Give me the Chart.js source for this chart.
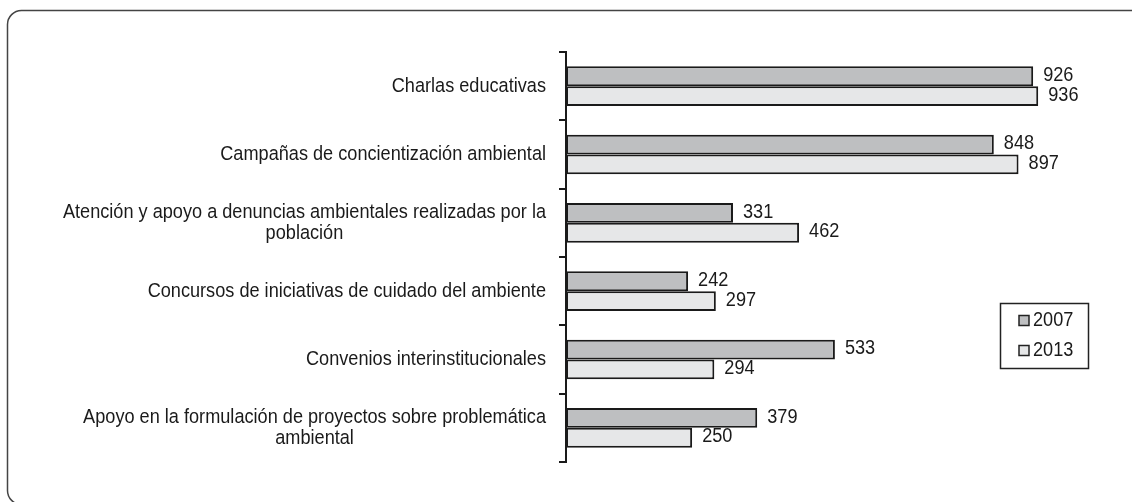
<!DOCTYPE html>
<html>
<head>
<meta charset="utf-8">
<script src="https://cdn.jsdelivr.net/npm/chart.js@4"></script>
<style>
  html, body { margin: 0; padding: 0; background: #fff; overflow: hidden; }
  #myChart { display: block; }
</style>
</head>
<body>
<canvas id="myChart" width="1132" height="502"></canvas>
<script>
// categories (multi-line labels as arrays)
var categories = [
  ["Charlas educativas"],
  ["Campañas de concientización ambiental"],
  ["Atención y apoyo a denuncias ambientales realizadas por la", "población"],
  ["Concursos de iniciativas de cuidado del ambiente"],
  ["Convenios interinstitucionales"],
  ["Apoyo en la formulación de proyectos sobre problemática", "ambiental"]
];
var values2007 = [926, 848, 331, 242, 533, 379];
var values2013 = [936, 897, 462, 297, 294, 250];
var seriesNames = ["2007", "2013"];

var FONT = '"Liberation Sans", Arial, sans-serif';
var SQUASH = 0.885; // narrow look, like Arial Narrow
var fill2007 = "#bebfc1";
var fill2013 = "#e6e7e8";

// text squeezed horizontally around its anchor
function narrowText(ctx, text, x, y) {
  ctx.save();
  ctx.translate(x, y);
  ctx.scale(SQUASH, 1);
  ctx.fillText(text, 0, 0);
  ctx.restore();
}

// rounded frame, running off the right and bottom edges
var framePlugin = {
  id: "framePlugin",
  beforeDraw: function (chart) {
    var ctx = chart.ctx;
    ctx.save();
    ctx.strokeStyle = "#444";
    ctx.lineWidth = 1.5;
    ctx.beginPath();
    ctx.roundRect(7.5, 10.5, 1300, 494, 14);
    ctx.stroke();
    ctx.restore();
  }
};

// draws value labels, category labels and the boxed legend
var textPlugin = {
  id: "textPlugin",
  afterDraw: function (chart) {
    var ctx = chart.ctx;
    ctx.save();
    ctx.fillStyle = "#1a1a1a";
    ctx.textBaseline = "middle";
    ctx.font = "20.5px " + FONT;

    // value labels
    ctx.textAlign = "left";
    chart.data.datasets.forEach(function (ds, di) {
      chart.getDatasetMeta(di).data.forEach(function (bar, i) {
        narrowText(ctx, String(ds.data[i]), bar.x + 10, bar.y - 1);
      });
    });

    // category labels, lines centred on each other, block right-aligned
    var yScale = chart.scales.y;
    var lineH = 21;
    ctx.textAlign = "center";
    categories.forEach(function (lines, i) {
      var cy = yScale.getPixelForValue(i);
      var maxW = 0;
      lines.forEach(function (t) { maxW = Math.max(maxW, ctx.measureText(t).width * SQUASH); });
      var cx = yScale.right - 20 - maxW / 2;
      lines.forEach(function (t, k) {
        narrowText(ctx, t, cx, cy + (k - (lines.length - 1) / 2) * lineH);
      });
    });

    // legend
    ctx.strokeStyle = "#222";
    ctx.lineWidth = 1.5;
    ctx.strokeRect(1000.5, 303.5, 88, 65);
    ctx.textAlign = "left";
    var fills = [fill2007, fill2013];
    seriesNames.forEach(function (name, k) {
      var cy = 320.5 + k * 30;
      ctx.fillStyle = fills[k];
      ctx.fillRect(1019, cy - 5, 10, 10);
      ctx.strokeRect(1019, cy - 5, 10, 10);
      ctx.fillStyle = "#1a1a1a";
      narrowText(ctx, name, 1033, cy);
    });
    ctx.restore();
  }
};

new Chart("myChart", {
  type: "bar",
  data: {
    labels: categories,
    datasets: [
      {
        label: seriesNames[0],
        data: values2007,
        backgroundColor: fill2007,
        borderColor: "#1a1a1a",
        borderWidth: 2,
        borderSkipped: false,
        categoryPercentage: 0.58,
        barPercentage: 1.0
      },
      {
        label: seriesNames[1],
        data: values2013,
        backgroundColor: fill2013,
        borderColor: "#1a1a1a",
        borderWidth: 2,
        borderSkipped: false,
        categoryPercentage: 0.58,
        barPercentage: 1.0
      }
    ]
  },
  options: {
    indexAxis: "y",
    responsive: false,
    animation: false,
    events: [],
    layout: { padding: { top: 52, bottom: 40, right: 61.5, left: 0 } },
    plugins: {
      legend: { display: false },
      tooltip: { enabled: false }
    },
    scales: {
      x: { display: false, min: 0, max: 1000 },
      y: {
        afterFit: function (s) { s.width = 566; },
        ticks: { display: false },
        grid: {
          offset: true,
          drawOnChartArea: false,
          drawTicks: true,
          tickLength: 7,
          color: "#1a1a1a",
          lineWidth: 2
        },
        border: { display: true, color: "#1a1a1a", width: 2 }
      }
    }
  },
  plugins: [framePlugin, textPlugin]
});
</script>
</body>
</html>
